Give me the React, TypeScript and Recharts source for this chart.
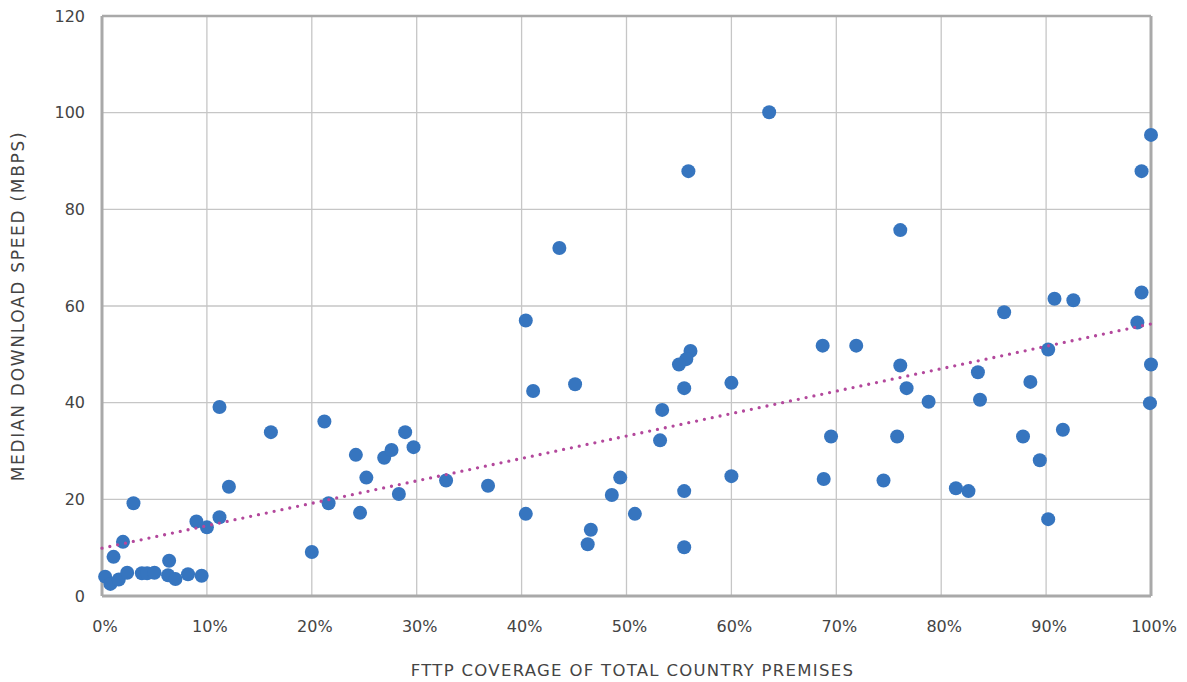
import React from 'react';
import {
  ScatterChart,
  Scatter,
  XAxis,
  YAxis,
  CartesianGrid,
  ReferenceLine,
} from 'recharts';

// FTTP coverage (% of premises) per country
const coverage = [
  0.3, 0.8, 1.1, 1.6, 2.0, 2.4, 3.0, 3.8, 4.3, 5.0, 6.4, 6.3, 7.0, 8.2, 9.5, 9.0, 10.0, 11.2,
  12.1, 11.2, 16.1, 20.0, 21.2, 21.6, 24.2, 25.2, 26.9, 27.6, 28.9, 29.7, 28.3, 24.6, 32.8,
  36.8, 40.4, 41.1, 45.1, 43.6, 56.1, 55.7, 55.0, 55.5, 60.0, 53.4, 53.2, 49.4, 48.6, 40.4,
  46.6, 46.3, 50.8, 55.5, 55.5, 60.0, 55.9, 63.6, 68.7, 71.9, 76.1, 76.7, 78.8, 83.5, 83.7,
  69.5, 75.8, 68.8, 74.5, 81.4, 82.6, 76.1, 100, 99.1, 99.1, 98.7, 100, 99.9, 86.0, 90.8,
  92.6, 90.2, 88.5, 87.8, 91.6, 89.4, 90.2,
];

// median download speed (Mbps) per country
const speed = [
  4.0, 2.5, 8.1, 3.4, 11.2, 4.8, 19.2, 4.7, 4.7, 4.8, 7.3, 4.3, 3.5, 4.5, 4.2, 15.4, 14.2, 16.3,
  22.6, 39.1, 33.9, 9.1, 36.1, 19.2, 29.2, 24.5, 28.6, 30.2, 33.9, 30.8, 21.1, 17.2, 23.9,
  22.8, 57.0, 42.4, 43.8, 72.0, 50.7, 49.0, 47.9, 43.0, 44.1, 38.5, 32.2, 24.5, 20.9, 17.0,
  13.7, 10.7, 17.0, 21.7, 10.1, 24.8, 87.9, 100.1, 51.8, 51.8, 47.7, 43.0, 40.2, 46.3, 40.6,
  33.0, 33.0, 24.2, 23.9, 22.3, 21.7, 75.7, 95.4, 87.9, 62.8, 56.6, 47.9, 39.9, 58.7, 61.5,
  61.2, 51.0, 44.3, 33.0, 34.4, 28.1, 15.9,
];

// linear trend line end points
const trendX = [0, 100];
const trendY = [9.9, 56.3];

const xTicks = [0, 10, 20, 30, 40, 50, 60, 70, 80, 90, 100];
const yTicks = [0, 20, 40, 60, 80, 100, 120];

const points = coverage.map((x, i) => ({ x, y: speed[i] }));
const trend = trendX.map((x, i) => ({ x, y: trendY[i] }));

const FONT = '"DejaVu Sans", sans-serif';
const TEXT = '#444444';
const FRAME = '#a9a9a9';

const Dot = (props: any) => <circle cx={props.cx} cy={props.cy} r={7} fill="#3675bf" />;

const XTick = (props: any) => (
  <text
    x={props.x + 3}
    y={props.y}
    textAnchor="middle"
    dominantBaseline="central"
    fontFamily={FONT}
    fontSize={16}
    fill={TEXT}
  >
    {`${props.payload.value}%`}
  </text>
);

const XTitle = (props: any) => {
  const vb = props.viewBox;
  return (
    <text
      x={vb.x + vb.width / 2 + 6}
      y={670}
      textAnchor="middle"
      dominantBaseline="central"
      fontFamily={FONT}
      fontSize={16.5}
      letterSpacing={1.3}
      fill={TEXT}
    >
      FTTP COVERAGE OF TOTAL COUNTRY PREMISES
    </text>
  );
};

const YTitle = (props: any) => {
  const vb = props.viewBox;
  const cx = 18;
  const cy = vb.y + vb.height / 2;
  return (
    <text
      x={cx}
      y={cy}
      transform={`rotate(-90 ${cx} ${cy})`}
      textAnchor="middle"
      dominantBaseline="central"
      fontFamily={FONT}
      fontSize={17}
      letterSpacing={1.7}
      fill={TEXT}
    >
      MEDIAN DOWNLOAD SPEED (MBPS)
    </text>
  );
};

const App: React.FC = () => {
  return (
    <div style={{ position: 'absolute', left: 0, top: 0, background: '#fff' }}>
      <ScatterChart width={1187} height={682} margin={{ top: 16, right: 36, left: 0, bottom: 0 }}>
        <CartesianGrid stroke="#c6c6c6" strokeWidth={1.3} />
        <XAxis
          type="number"
          dataKey="x"
          domain={[0, 100]}
          ticks={xTicks}
          height={86}
          tickSize={0}
          tickMargin={30}
          axisLine={{ stroke: FRAME, strokeWidth: 3 }}
          tick={<XTick />}
          label={<XTitle />}
        />
        <YAxis
          type="number"
          dataKey="y"
          domain={[0, 120]}
          ticks={yTicks}
          width={102}
          tickSize={0}
          tickMargin={17}
          axisLine={{ stroke: FRAME, strokeWidth: 3 }}
          tick={{ fontFamily: FONT, fontSize: 16, fill: TEXT }}
          label={<YTitle />}
        />
        <ReferenceLine y={120} stroke={FRAME} strokeWidth={2.5} />
        <ReferenceLine x={100} stroke={FRAME} strokeWidth={3} />
        <Scatter data={points} shape={<Dot />} isAnimationActive={false} />
        <Scatter
          data={trend}
          shape={() => null}
          fill="#b3489c"
          line={{ stroke: '#b3489c', strokeWidth: 3.3, strokeDasharray: '0 8', strokeLinecap: 'round' }}
          isAnimationActive={false}
        />
      </ScatterChart>
    </div>
  );
};

export default App;
